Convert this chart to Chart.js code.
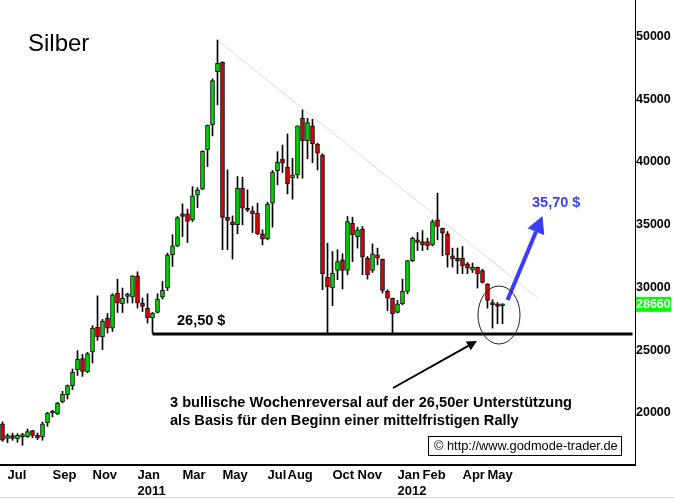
<!DOCTYPE html>
<html>
<head>
<meta charset="utf-8">
<script src="https://cdn.jsdelivr.net/npm/chart.js@4.4.0/dist/chart.umd.min.js"></script>
<style>
  html, body { margin: 0; padding: 0; background: #fff; }
  canvas { display: block; }
</style>
</head>
<body>
<canvas id="silberChart" width="674" height="499"></canvas>
<script>
// Silber, Wochenkerzen Juli 2010 - Mai 2012 (Werte in US-Cent * 10)
const opens = [
  19150, 17980, 18200, 17940, 18120, 18100, 18600, 18220, 18100, 19210,
  20000, 19950, 20880, 21460, 22180, 23450, 24330, 23290, 24860, 26850,
  26060, 27540, 26770, 29560, 28710, 29300, 29240, 30930, 28760, 28360,
  27570, 28010, 29240, 29960, 32610, 33320, 35870, 35870, 35390, 37360,
  37840, 40970, 42960, 47200, 47970, 35600, 35230, 35000, 37920, 36170,
  36110, 35930, 34280, 33880, 36720, 39320, 40230, 39590, 38760, 38980,
  43490, 41710, 42880, 41440, 40570, 30830, 29960, 31360, 32210, 31360,
  35130, 34060, 34650, 32340, 31360, 32610, 32270, 29690, 29160, 28010,
  28710, 29690, 32150, 33800, 33670, 33670, 33400, 35390, 34730, 34280,
  32530, 32340, 32340, 31890, 31410, 31630, 31360, 30300, 28810, 28710,
  28550
];
const highs = [
  19290, 18340, 18400, 18360, 18380, 18730, 18620, 18410, 19290, 20050,
  20210, 20850, 21730, 22240, 23510, 24970, 24670, 24830, 26960, 29340,
  27460, 27930, 29500, 30670, 29960, 29560, 30940, 31250, 29160, 29500,
  28010, 29500, 30480, 32740, 34200, 35660, 36670, 36250, 38040, 37960,
  40900, 42950, 46620, 49720, 47990, 39370, 35710, 38840, 38790, 37780,
  36450, 36720, 34600, 36800, 39320, 40830, 41360, 42240, 40300, 42880,
  44150, 43490, 43410, 41500, 40650, 33540, 32870, 33010, 32690, 35660,
  35610, 34810, 34860, 32470, 33480, 33140, 32270, 29820, 29160, 28970,
  30670, 32150, 34020, 34380, 34540, 33940, 35390, 37520, 34730, 34460,
  33140, 33140, 33270, 31990, 31950, 31630, 31450, 30300, 29030, 28810,
  28700
];
const lows = [
  17750, 17640, 17830, 17670, 17430, 18060, 18040, 17880, 17830, 18940,
  19690, 19870, 20800, 21120, 21860, 23000, 22920, 23210, 23990, 25790,
  25050, 26370, 26500, 28010, 28010, 28760, 28760, 28360, 28090, 27170,
  26350, 27970, 29080, 29770, 31680, 33260, 34060, 33590, 35260, 36370,
  37800, 39640, 42080, 44550, 33010, 33010, 32270, 34280, 35000, 36050,
  34380, 34200, 33400, 33800, 34810, 38180, 39160, 37460, 37040, 38710,
  38710, 40270, 39950, 39370, 29820, 26350, 28550, 30620, 29880, 31020,
  32070, 33140, 31020, 30670, 31200, 31810, 29560, 28170, 26350, 27970,
  28630, 29500, 32070, 32950, 32950, 33010, 33320, 33800, 32530, 31630,
  31630, 31100, 31100, 31100, 31200, 29960, 30350, 28360, 26770, 27120,
  27120
];
const closes = [
  17830, 18200, 17980, 18220, 18260, 18520, 18220, 18040, 19150, 20000,
  20050, 20800, 21520, 22180, 23270, 24300, 23320, 24730, 26770, 26060,
  27330, 26770, 29420, 28760, 29160, 29380, 30930, 28760, 28490, 27570,
  27970, 29080, 29770, 32610, 33320, 35580, 35660, 35260, 37300, 37780,
  40860, 42930, 46480, 47870, 35580, 35340, 35000, 37920, 36320, 36160,
  35870, 34280, 33860, 36670, 39190, 39990, 39910, 38260, 38980, 42880,
  41710, 43140, 41440, 40700, 31100, 30040, 31150, 32070, 31360, 35260,
  34200, 34600, 32420, 31020, 32690, 32340, 29770, 29160, 27910, 28710,
  29690, 32150, 33940, 33590, 33400, 33320, 35260, 34860, 34330, 32610,
  32270, 32150, 31730, 31550, 31630, 31100, 30400, 28970, 28630, 28490,
  28660
];

// x-Achse: Wochenslots, Monatsbeschriftungen
const totalSlots = 127;
const tickIdx = [1, 10, 18, 27, 36, 44, 53, 57, 66, 71, 79, 84, 92, 97];
const tickText = ['Jul', 'Sep', 'Nov', 'Jan', 'Mar', 'May', 'Jul', 'Aug', 'Oct', 'Nov', 'Jan', 'Feb', 'Apr', 'May'];
const yearIdx = [27, 79];
const yearText = ['2011', '2012'];

// y-Achse
const yTicks = [20000, 25000, 30000, 35000, 40000, 45000, 50000];

// Unterstützung und Abwärtstrendlinie
const supportLevel = 26300;
const supportFrom = 30;
const trendIdx = [43, 107];
const trendVals = [49720, 29180];

const lastPrice = 28660;
const targetPrice = '35,70 $';

const FONT = '"Liberation Sans", Arial, sans-serif';

const categories = [];
for (let i = 0; i < totalSlots; i++) {
  const t = tickIdx.indexOf(i);
  const yr = yearIdx.indexOf(i);
  if (t < 0) categories.push('');
  else if (yr < 0) categories.push(tickText[t]);
  else categories.push([tickText[t], yearText[yr]]);
}

const wicks = lows.map((l, i) => [l, highs[i]]);
const bodies = opens.map((o, i) => [o, closes[i]]);
const bodyColors = opens.map((o, i) => closes[i] >= o ? '#00d800' : '#e00000');

const supportLine = categories.map((c, i) => (i === supportFrom || i === totalSlots - 1) ? supportLevel : null);
const trendLine = categories.map((c, i) => {
  const k = trendIdx.indexOf(i);
  return k < 0 ? null : trendVals[k];
});

function arrow(ctx, x1, y1, x2, y2, width, headLen, headHalf, color) {
  const ang = Math.atan2(y2 - y1, x2 - x1);
  const bx = x2 - Math.cos(ang) * headLen;
  const by = y2 - Math.sin(ang) * headLen;
  ctx.strokeStyle = color;
  ctx.fillStyle = color;
  ctx.lineWidth = width;
  ctx.beginPath();
  ctx.moveTo(x1, y1);
  ctx.lineTo(bx, by);
  ctx.stroke();
  ctx.beginPath();
  ctx.moveTo(x2, y2);
  ctx.lineTo(bx + Math.sin(ang) * headHalf, by - Math.cos(ang) * headHalf);
  ctx.lineTo(bx - Math.sin(ang) * headHalf, by + Math.cos(ang) * headHalf);
  ctx.closePath();
  ctx.fill();
}

const annotations = {
  id: 'annotations',
  afterDraw(chart) {
    const { ctx, scales: { x, y } } = chart;
    ctx.save();
    ctx.textBaseline = 'middle';
    ctx.textAlign = 'left';

    ctx.fillStyle = '#000';
    ctx.font = '24px ' + FONT;
    ctx.fillText('Silber', 28, 44);

    ctx.font = 'bold 14.5px ' + FONT;
    ctx.fillText('26,50 $', 177, 321);

    ctx.font = 'bold 14.6px ' + FONT;
    ctx.fillText('3 bullische Wochenreversal auf der 26,50er Unterstützung', 170, 403);
    ctx.fillText('als Basis für den Beginn einer mittelfristigen Rally', 170, 421);

    ctx.fillStyle = '#3c3cff';
    ctx.font = 'bold 14.5px ' + FONT;
    ctx.fillText(targetPrice, 532, 203);

    // blauer Pfeil zum Kursziel
    arrow(ctx, x.getPixelForValue(101), y.getPixelForValue(29000),
      x.getPixelForValue(108), y.getPixelForValue(35700), 4, 17, 9, '#3c3cff');

    // schwarzer Pfeil zum Kreis
    arrow(ctx, 393, 388, 477, 341, 2, 10, 5, '#000');

    // Kreis um die letzten drei Kerzen
    ctx.strokeStyle = '#222';
    ctx.lineWidth = 1;
    ctx.beginPath();
    ctx.ellipse(499, 315, 21, 29, 0, 0, Math.PI * 2);
    ctx.stroke();

    // Copyright-Box
    ctx.fillStyle = '#fff';
    ctx.fillRect(428.5, 436.5, 193, 19);
    ctx.strokeStyle = '#000';
    ctx.strokeRect(428.5, 436.5, 193, 19);
    ctx.fillStyle = '#000';
    ctx.font = '12.8px ' + FONT;
    ctx.fillText('© http://www.godmode-trader.de', 434, 446.5);

    // letzter Kurs an der Achse
    const yp = y.getPixelForValue(lastPrice);
    ctx.fillStyle = '#00ff00';
    ctx.fillRect(636, yp - 7.5, 35, 15);
    ctx.fillStyle = '#fff';
    ctx.font = 'bold 12.5px ' + FONT;
    ctx.fillText(String(lastPrice), 636, yp + 0.5);

    // grauer Rand unten
    ctx.strokeStyle = '#d4d4d4';
    ctx.beginPath();
    ctx.moveTo(0, 497.5);
    ctx.lineTo(674, 497.5);
    ctx.stroke();
    ctx.restore();
  }
};

const ctx = document.getElementById('silberChart').getContext('2d');
new Chart(ctx, {
  data: {
    labels: categories,
    datasets: [
      {
        type: 'bar',
        label: 'Körper',
        data: bodies,
        backgroundColor: bodyColors,
        borderColor: '#000',
        borderWidth: 1,
        borderSkipped: false,
        barThickness: 4,
        minBarLength: 2,
        grouped: false,
        order: 1
      },
      {
        type: 'bar',
        label: 'Docht',
        data: wicks,
        backgroundColor: '#000',
        barThickness: 1,
        grouped: false,
        order: 2
      },
      {
        type: 'line',
        label: 'Unterstützung',
        data: supportLine,
        borderColor: '#000',
        borderWidth: 3,
        pointRadius: 0,
        spanGaps: true,
        order: 0
      },
      {
        type: 'line',
        label: 'Trend',
        data: trendLine,
        borderColor: '#dadada',
        borderWidth: 1,
        pointRadius: 0,
        spanGaps: true,
        order: 3
      }
    ]
  },
  options: {
    responsive: false,
    animation: false,
    devicePixelRatio: 1,
    layout: { padding: 0 },
    plugins: {
      legend: { display: false },
      tooltip: { enabled: false }
    },
    scales: {
      x: {
        type: 'category',
        offset: true,
        grid: { display: false, drawTicks: false, offset: true },
        border: { display: true, color: '#000', width: 2 },
        ticks: {
          autoSkip: false,
          maxRotation: 0,
          minRotation: 0,
          align: 'start',
          padding: 3,
          color: '#000',
          font: { family: FONT, size: 13, weight: 'bold', lineHeight: 1.2 }
        },
        afterFit(scale) {
          scale.height = 34;
          scale.paddingLeft = 0;
          scale.paddingRight = 0;
        }
      },
      y: {
        position: 'right',
        min: 15860,
        max: 52910,
        grid: { display: false, drawTicks: false },
        border: { display: true, color: '#000', width: 1 },
        afterBuildTicks(scale) {
          scale.ticks = yTicks.map(v => ({ value: v }));
        },
        ticks: {
          padding: 1,
          color: '#000',
          font: { family: FONT, size: 12.5, weight: 'bold' },
          callback: v => String(v)
        },
        afterFit(scale) {
          scale.width = 39;
          scale.paddingTop = 0;
          scale.paddingBottom = 0;
        }
      }
    }
  },
  plugins: [annotations]
});
</script>
</body>
</html>
